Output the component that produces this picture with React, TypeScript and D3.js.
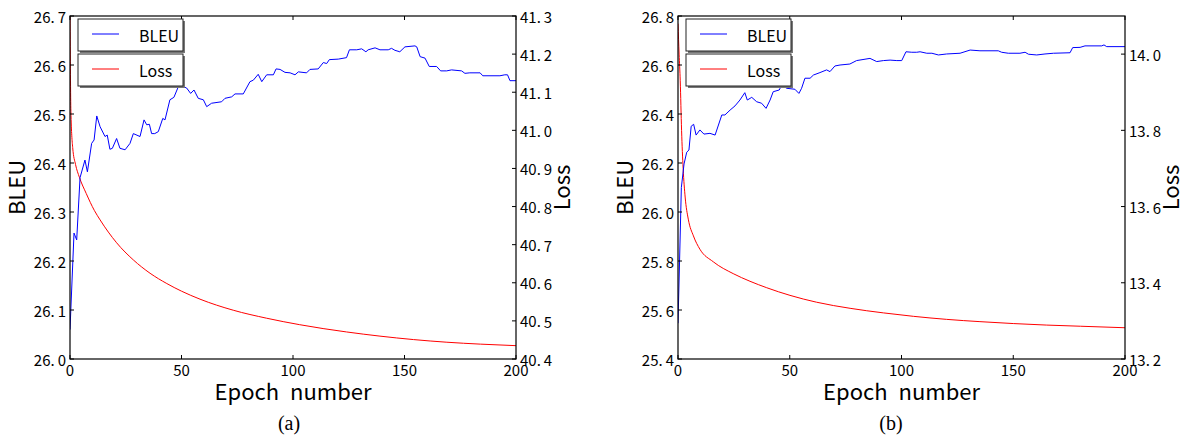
import React from "react";
import * as d3 from "d3";

// ---------- Data ----------
// Panel (a)
const aBleuEpochs = [0, 1.8, 3, 4.5, 6.7, 7.8, 9.7, 10.8, 12, 13.5, 15.7, 16.7, 17.9, 19, 20.9, 22.4, 24.7, 26.9, 28.4, 31.4, 33.2, 34.4, 35.6, 36.6, 38, 39.6, 41.6, 42.6, 44.8, 46.6, 48.6, 50.8, 52.3, 54.1, 55.6, 57.5, 59.8, 61.3, 63.5, 68, 69.5, 72.5, 74, 77.7, 80.7, 82.2, 84.4, 86, 88.2, 91.2, 92.4, 94.2, 96.4, 98.7, 100.9, 102.4, 106.1, 107.6, 111.3, 113.6, 115.1, 116.3, 120.3, 124, 125.3, 128.6, 130.8, 132.7, 133.7, 136.8, 139, 142.7, 144.2, 145.7, 147.9, 150.2, 154.7, 155.5, 157, 159.2, 161.1, 164.4, 166.2, 168.9, 171.1, 175.6, 177.1, 179.3, 183.9, 185.1, 192.8, 195, 196.2, 197.3, 200];
const aBleuValues = [26.06, 26.257, 26.243, 26.37, 26.406, 26.382, 26.44, 26.447, 26.496, 26.474, 26.454, 26.457, 26.428, 26.43, 26.45, 26.43, 26.427, 26.44, 26.46, 26.454, 26.488, 26.478, 26.479, 26.46, 26.46, 26.464, 26.491, 26.488, 26.529, 26.534, 26.556, 26.556, 26.553, 26.542, 26.549, 26.532, 26.529, 26.515, 26.522, 26.525, 26.532, 26.535, 26.541, 26.541, 26.566, 26.569, 26.581, 26.566, 26.58, 26.58, 26.592, 26.591, 26.585, 26.584, 26.58, 26.586, 26.584, 26.591, 26.592, 26.605, 26.603, 26.611, 26.612, 26.615, 26.631, 26.631, 26.633, 26.627, 26.631, 26.635, 26.631, 26.631, 26.634, 26.63, 26.627, 26.637, 26.639, 26.637, 26.617, 26.614, 26.597, 26.597, 26.588, 26.588, 26.59, 26.588, 26.583, 26.584, 26.584, 26.578, 26.578, 26.58, 26.58, 26.568, 26.568];
const aLossEpochs = [0, 0.4, 1.2, 2.5, 4.2, 7.3, 10.9, 13.5, 20.9, 28.4, 35.9, 43.4, 50, 58.3, 73.2, 88.2, 103, 124, 139, 154, 169, 184, 200];
const aLossValues = [41.3, 41.05, 40.955, 40.91, 40.877, 40.834, 40.79, 40.765, 40.705, 40.66, 40.625, 40.598, 40.578, 40.557, 40.528, 40.507, 40.49, 40.471, 40.46, 40.451, 40.444, 40.439, 40.435];

// Panel (b)
const bBleuEpochs = [0, 0.7, 1.5, 2.7, 3.9, 4.9, 5.9, 7, 8.1, 9.8, 11.6, 14.3, 16.6, 19.6, 21, 23.3, 25.5, 27.7, 29.9, 31, 33, 35.2, 37.4, 39.4, 41.2, 42.6, 45.3, 46.4, 48.6, 52.3, 54.1, 55.3, 56.8, 59.1, 60.6, 63.5, 66.5, 68, 70.2, 72.5, 76.9, 79.9, 85.9, 88.9, 91.9, 94.9, 97.9, 100.1, 102, 104.6, 106.8, 108.3, 111.3, 113.6, 116.5, 120.2, 126.2, 130.7, 135.1, 143.3, 144.8, 147.8, 153, 155.3, 156.8, 160.5, 164.2, 168, 175.4, 176.6, 179.9, 182.1, 189.6, 190.6, 191.8, 200];
const bBleuValues = [25.546, 25.8, 26.1, 26.196, 26.244, 26.253, 26.35, 26.358, 26.314, 26.335, 26.318, 26.321, 26.314, 26.396, 26.396, 26.416, 26.433, 26.457, 26.487, 26.457, 26.468, 26.45, 26.444, 26.423, 26.457, 26.491, 26.498, 26.518, 26.505, 26.501, 26.484, 26.505, 26.546, 26.546, 26.559, 26.569, 26.58, 26.573, 26.596, 26.6, 26.604, 26.618, 26.627, 26.614, 26.618, 26.62, 26.618, 26.618, 26.654, 26.652, 26.652, 26.654, 26.648, 26.648, 26.641, 26.645, 26.648, 26.661, 26.658, 26.658, 26.652, 26.648, 26.648, 26.652, 26.644, 26.641, 26.645, 26.648, 26.65, 26.671, 26.672, 26.678, 26.678, 26.682, 26.675, 26.675];
const bLossEpochs = [0, 0.5, 1, 1.6, 2.3, 3.2, 4.6, 6.9, 9.8, 15.8, 24.7, 32.2, 39.7, 50.1, 62, 77, 91.9, 105.3, 120.2, 135.1, 150, 165, 180, 200];
const bLossValues = [14.08, 14.0, 13.93, 13.8, 13.7, 13.625, 13.567, 13.523, 13.488, 13.455, 13.424, 13.404, 13.387, 13.367, 13.349, 13.333, 13.321, 13.312, 13.304, 13.298, 13.293, 13.289, 13.286, 13.282];

// Axes / ticks
const xTicks = [0, 50, 100, 150, 200];
const aBleuTicks = [26.0, 26.1, 26.2, 26.3, 26.4, 26.5, 26.6, 26.7];
const aLossTicks = [40.4, 40.5, 40.6, 40.7, 40.8, 40.9, 41.0, 41.1, 41.2, 41.3];
const bBleuTicks = [25.4, 25.6, 25.8, 26.0, 26.2, 26.4, 26.6, 26.8];
const bLossTicks = [13.2, 13.4, 13.6, 13.8, 14.0];
const aBleuDomain = [26.0, 26.7];
const aLossDomain = [40.4, 41.3];
const bBleuDomain = [25.4, 26.8];
const bLossDomain = [13.2, 14.1];
const seriesNames = ["BLEU", "Loss"];
const captions = ["(a)", "(b)"];

const FONT = "'Noto Sans CJK SC', 'Noto Sans', sans-serif";

function TickLabel({ v, x, y, anchor }: { v: number; x: number; y: number; anchor: string }) {
  const s = v.toFixed(1);
  const [ip, dp] = s.split(".");
  return (
    <text x={x} y={y} textAnchor={anchor} fontSize={15} fontFamily={FONT} fill="#000" dominantBaseline="central">
      {ip + "."}
      <tspan dx={3}>{dp}</tspan>
    </text>
  );
}

type PanelProps = {
  left: number;
  right: number;
  top: number;
  bottom: number;
  bleuE: number[];
  bleuV: number[];
  lossE: number[];
  lossV: number[];
  bleuDomain: number[];
  lossDomain: number[];
  bleuTicks: number[];
  lossTicks: number[];
  caption: string;
  captionX: number;
  id: string;
};

function Panel(p: PanelProps) {
  const x = d3.scaleLinear().domain([0, 200]).range([p.left, p.right]);
  const yB = d3.scaleLinear().domain(p.bleuDomain).range([p.bottom, p.top]);
  const yL = d3.scaleLinear().domain(p.lossDomain).range([p.bottom, p.top]);
  const bleuLine = d3
    .line<number>()
    .x((_, i) => x(p.bleuE[i]))
    .y((d) => yB(d))
    .curve(d3.curveLinear);
  const lossLine = d3
    .line<number>()
    .x((_, i) => x(p.lossE[i]))
    .y((d) => yL(d))
    .curve(d3.curveMonotoneX);
  const w = p.right - p.left;
  const h = p.bottom - p.top;
  const cx = (p.left + p.right) / 2;
  const cy = (p.top + p.bottom) / 2;
  const tl = 4;
  const legX = p.left + 8;
  const legW = 105;
  const legH = 32;
  const legY = [p.top + 3, p.top + 38];
  const colors = ["#0000ff", "#ff0000"];
  return (
    <g>
      <defs>
        <clipPath id={"clip" + p.id}>
          <rect x={p.left} y={p.top - 1} width={w} height={h + 1} />
        </clipPath>
      </defs>
      <g clipPath={`url(#clip${p.id})`}>
        <path d={lossLine(p.lossV) || ""} fill="none" stroke="#ff0000" strokeWidth={1} />
        <path d={bleuLine(p.bleuV) || ""} fill="none" stroke="#0000ff" strokeWidth={1} />
      </g>
      <rect x={p.left} y={p.top} width={w} height={h} fill="none" stroke="#000" strokeWidth={1.2} />
      {/* x ticks */}
      {xTicks.map((t) => (
        <g key={"x" + t}>
          <line x1={x(t)} x2={x(t)} y1={p.bottom} y2={p.bottom - tl} stroke="#000" />
          <line x1={x(t)} x2={x(t)} y1={p.top} y2={p.top + tl} stroke="#000" />
          <text x={x(t)} y={p.bottom + 10} textAnchor="middle" fontSize={15} fontFamily={FONT} dominantBaseline="central">
            {t}
          </text>
        </g>
      ))}
      {p.bleuTicks.map((t) => (
        <g key={"b" + t}>
          <line x1={p.left} x2={p.left + tl} y1={yB(t)} y2={yB(t)} stroke="#000" />
          <TickLabel v={t} x={p.left - 4} y={yB(t)} anchor="end" />
        </g>
      ))}
      {p.lossTicks.map((t) => (
        <g key={"l" + t}>
          <line x1={p.right} x2={p.right - tl} y1={yL(t)} y2={yL(t)} stroke="#000" />
          <TickLabel v={t} x={p.right + 4} y={yL(t)} anchor="start" />
        </g>
      ))}
      {/* axis labels */}
      <text x={cx} y={p.bottom + 41} textAnchor="middle" fontSize={22} fontFamily={FONT} wordSpacing={6}>
        Epoch number
      </text>
      <text transform={`translate(${p.left - 45},${cy}) rotate(-90)`} textAnchor="middle" fontSize={22} fontFamily={FONT}>
        {seriesNames[0]}
      </text>
      <text transform={`translate(${p.right + 54},${cy}) rotate(-90)`} textAnchor="middle" fontSize={22} fontFamily={FONT}>
        {seriesNames[1]}
      </text>
      {/* legend */}
      {seriesNames.map((n, i) => (
        <g key={n}>
          <rect x={legX + 2} y={legY[i] + 2} width={legW} height={legH} fill="#777" />
          <rect x={legX} y={legY[i]} width={legW} height={legH} fill="#fff" stroke="#222" strokeWidth={1} />
          <line x1={legX + 14} x2={legX + 41} y1={legY[i] + 15} y2={legY[i] + 15} stroke={colors[i]} strokeWidth={1} />
          <text x={legX + 61} y={legY[i] + 16} fontSize={16} fontFamily={FONT} dominantBaseline="central">
            {n}
          </text>
        </g>
      ))}
      <text x={p.captionX} y={430} textAnchor="middle" fontSize={20} fontFamily="'Liberation Serif', 'Times New Roman', serif">
        {p.caption}
      </text>
    </g>
  );
}

export default function App() {
  return (
    <svg width={1184} height={436} style={{ position: "absolute", left: 0, top: 0, background: "#fff" }}>
      <rect width={1184} height={436} fill="#fff" />
      <Panel
        id="a"
        left={70}
        right={516}
        top={16}
        bottom={359}
        bleuE={aBleuEpochs}
        bleuV={aBleuValues}
        lossE={aLossEpochs}
        lossV={aLossValues}
        bleuDomain={aBleuDomain}
        lossDomain={aLossDomain}
        bleuTicks={aBleuTicks}
        lossTicks={aLossTicks}
        caption={captions[0]}
        captionX={289}
      />
      <Panel
        id="b"
        left={678}
        right={1125}
        top={16}
        bottom={359}
        bleuE={bBleuEpochs}
        bleuV={bBleuValues}
        lossE={bLossEpochs}
        lossV={bLossValues}
        bleuDomain={bBleuDomain}
        lossDomain={bLossDomain}
        bleuTicks={bBleuTicks}
        lossTicks={bLossTicks}
        caption={captions[1]}
        captionX={891}
      />
    </svg>
  );
}
